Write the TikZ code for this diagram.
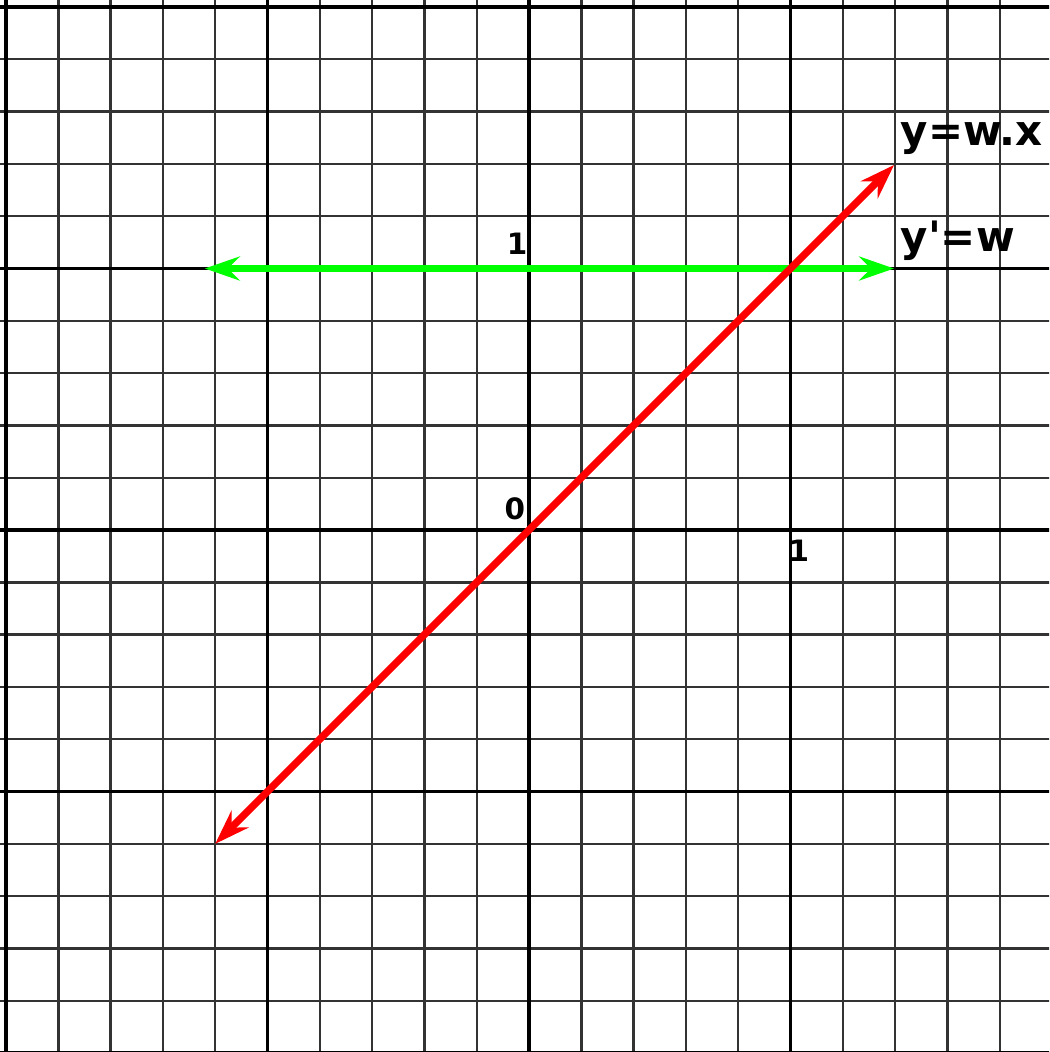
\documentclass[tikz,border=0pt]{standalone}
\usepackage{fontspec}
\newfontfamily\lblfont{DejaVu Sans}
\usetikzlibrary{arrows.meta}
\definecolor{vgreen}{RGB}{0,255,0}
\definecolor{vred}{RGB}{255,0,0}
\begin{document}
\begin{tikzpicture}[
  minor/.style={line width=1.3pt, black!80},
  major/.style={line width=1.8pt, black},
  axisline/.style={line width=2.3pt, black},
  vec/.style={line width=3.9pt, {Stealth[length=19pt,width=13pt,inset=6.5pt]}-{Stealth[length=19pt,width=13pt,inset=6.5pt]}},
  big/.style={font=\lblfont\bfseries\fontsize{22.8}{27}\selectfont, inner sep=0pt},
  small/.style={font=\lblfont\bfseries\fontsize{16}{19}\selectfont, inner sep=0pt},
]
\useasboundingbox (-10.115,-9.98) rectangle (9.943,10.134);
\fill[white] (-10.115,-9.98) rectangle (9.943,10.134);
\begin{scope}
  \clip (-10.115,-9.98) rectangle (9.943,10.134);
  \foreach \i in {-9,-8,-7,-6,-4,-3,-2,-1,1,2,3,4,6,7,8,9} {
    \draw[minor] (\i,-10.5) -- (\i,10.5);
    \draw[minor] (-10.5,\i) -- (10.5,\i);
  }
  \foreach \i in {-10,-5,5,10} {
    \draw[major] (\i,-10.5) -- (\i,10.5);
    \draw[major] (-10.5,\i) -- (10.5,\i);
  }
  \draw[axisline] (0,-10.5) -- (0,10.5);
  \draw[axisline] (-10.5,0) -- (10.5,0);
\end{scope}

\coordinate (gA) at (-6.2,5);
\coordinate (gB) at (6.98,5);
\coordinate (rA) at (-6,-6);
\coordinate (rB) at (6.98,6.98);
\draw[vec, vgreen] (gA) -- (gB);
\draw[vec, vred] (rA) -- (rB);

\node[big, anchor=base west] (lblwx) at (7.1,7.36) {y=w.x};
\node[big, anchor=base west] (lblw) at (7.1,5.32) {y'=w};
\node[small] (one_y) at (-0.23,5.47) {1};
\node[small] (zero) at (-0.27,0.40) {0};
\node[small] (one_x) at (5.16,-0.40) {1};
\end{tikzpicture}
\end{document}
